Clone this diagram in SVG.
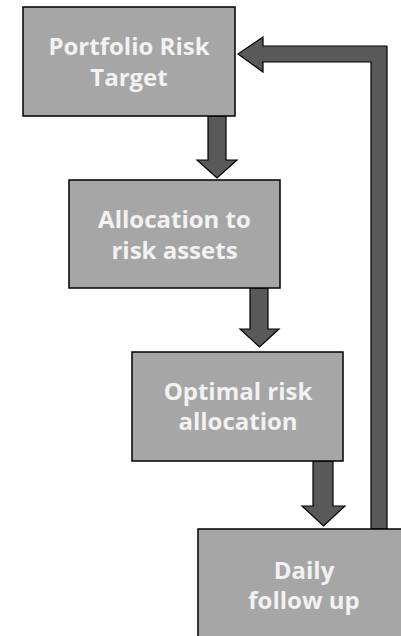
<svg xmlns="http://www.w3.org/2000/svg" width="401" height="636" viewBox="0 0 401 636">
<style>
.box{fill:#a6a6a6;stroke:#000;stroke-width:1.5}
.arr{fill:#595959;stroke:#000;stroke-width:1.2;stroke-linejoin:miter}
.t{font-family:"Open Sans","DejaVu Sans",sans-serif;font-weight:bold;font-size:24px;fill:#f2f2f2;text-anchor:middle}
</style>
<rect width="401" height="636" fill="#fff"/>
<g id="connectors">
<polygon class="arr" points="208,116 226,116 226,160 237,160 217,178 197,160 208,160"/>
<polygon class="arr" points="250,288 268,288 268,329 279,329 259.5,347 240,329 250,329"/>
<polygon class="arr" points="313,461 333,461 333,506 345,506 323.5,526 302,506 313,506"/>
<polygon class="arr" points="371,529 371,62 263,62 263,72 238,54 263,37 263,46 387,46 387,529"/>
</g>
<g id="n1">
<rect class="box" x="23" y="7" width="212" height="109"/>
<text class="t" x="129" y="55">Portfolio Risk</text>
<text class="t" x="129" y="86">Target</text>
</g>
<g id="n2">
<rect class="box" x="69" y="180" width="211" height="108"/>
<text class="t" x="174.5" y="228">Allocation to</text>
<text class="t" x="174.5" y="259">risk assets</text>
</g>
<g id="n3">
<rect class="box" x="132" y="352" width="211" height="109"/>
<text class="t" x="238" y="400">Optimal risk</text>
<text class="t" x="238" y="430">allocation</text>
</g>
<g id="n4">
<rect class="box" x="198" y="529" width="212" height="110"/>
<text class="t" x="304" y="579">Daily</text>
<text class="t" x="304" y="609">follow up</text>
</g>
</svg>
